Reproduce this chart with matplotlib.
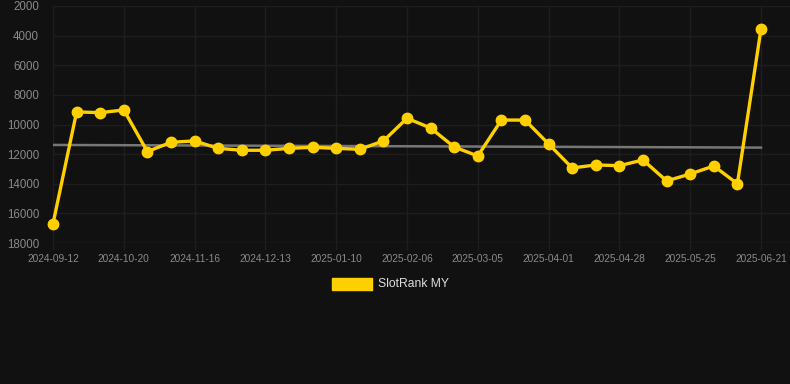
import matplotlib.pyplot as plt

# Rangs SlotRank MY (axe inversé : petit = meilleur)
dates = ['2024-09-12', '2024-09-25', '2024-10-07', '2024-10-20', '2024-10-29',
         '2024-11-07', '2024-11-16', '2024-11-25', '2024-12-04', '2024-12-13',
         '2024-12-22', '2024-12-31', '2025-01-10', '2025-01-19', '2025-01-28',
         '2025-02-06', '2025-02-15', '2025-02-24', '2025-03-05', '2025-03-14',
         '2025-03-23', '2025-04-01', '2025-04-10', '2025-04-19', '2025-04-28',
         '2025-05-07', '2025-05-16', '2025-05-25', '2025-06-03', '2025-06-12',
         '2025-06-21']
ranks = [16700, 9150, 9200, 9020, 11830, 11200, 11110, 11610, 11740, 11740,
         11610, 11540, 11610, 11675, 11110, 9580, 10235, 11520, 12125, 9700,
         9700, 11315, 12935, 12730, 12780, 12395, 13810, 13340, 12800, 14000,
         3550]
trend_start = 11380
trend_end = 11560
y_ticks = [2000, 4000, 6000, 8000, 10000, 12000, 14000, 16000, 18000]

bg = '#111111'
yellow = '#FFD000'

fig = plt.figure(figsize=(7.9, 3.84), dpi=100, facecolor=bg)
ax = fig.add_axes([53 / 790, 1 - 243 / 384, 1 - 53 / 790, (243 - 6) / 384])
ax.set_facecolor(bg)

x = list(range(len(dates)))
ax.plot([x[0], x[-1]], [trend_start, trend_end], color='#777777', lw=1.8, zorder=2)
ax.plot(x, ranks, color=yellow, lw=2.4, marker='o', markersize=7.5,
        markerfacecolor=yellow, markeredgecolor=yellow, zorder=3,
        solid_joinstyle='round', clip_on=False)

ax.set_xlim(0, (790 - 53) / 23.6)
ax.set_ylim(18000, 2000)
ax.set_yticks(y_ticks)
ax.set_yticklabels([str(v) for v in y_ticks])
ax.set_xticks(x[::3])
ax.set_xticklabels(dates[::3])

ax.grid(True, color='#1e1e1e', lw=1.0)
for s in ax.spines.values():
    s.set_visible(False)
ax.axhline(18000, color='#262626', lw=1.0, zorder=1)
ax.tick_params(axis='x', colors='#1e1e1e', length=5, width=1.0, pad=3,
               labelcolor='#8a8a8a', labelsize=7.3)
ax.tick_params(axis='y', length=0, pad=10, labelcolor='#8a8a8a', labelsize=8.3)
for lab in ax.get_xticklabels() + ax.get_yticklabels():
    lab.set_family('Liberation Sans')

# Légende
fig.patches.append(plt.Rectangle((332 / 790, 1 - 290 / 384), 40 / 790, 12 / 384,
                                 transform=fig.transFigure, color=yellow))
fig.text(378 / 790, 1 - 284 / 384, 'SlotRank MY', color='#dddddd', fontsize=8.7,
         family='Liberation Sans', va='center', ha='left')

fig.savefig('out.png', dpi=100, facecolor=bg)
